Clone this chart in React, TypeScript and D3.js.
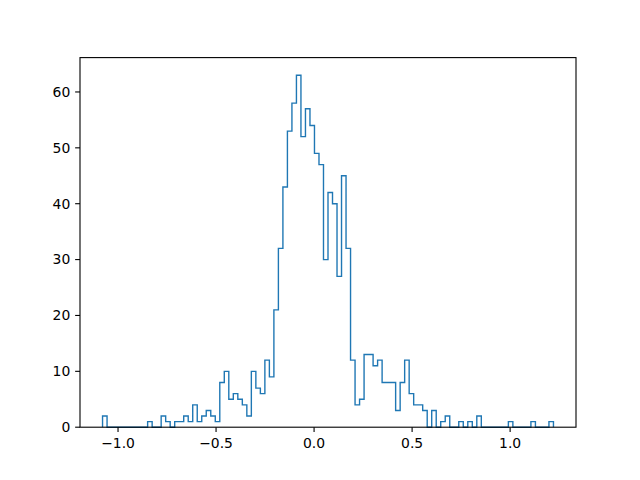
import React from "react";
import * as d3 from "d3";

const dataMin = -1.079;
const dataMax = 1.221;
const counts = [
  2, 0, 0, 0, 0, 0, 0, 0, 0, 0,
  1, 0, 0, 2, 1, 0, 1, 1, 2, 1,
  4, 1, 2, 3, 2, 1, 8, 10, 5, 6,
  5, 4, 2, 10, 7, 6, 12, 9, 21, 32,
  43, 53, 58, 63, 52, 57, 54, 49, 47, 30,
  42, 40, 27, 45, 32, 12, 4, 5, 13, 13,
  11, 12, 8, 8, 8, 3, 8, 12, 6, 4,
  4, 3, 0, 3, 0, 1, 2, 0, 0, 1,
  0, 1, 0, 2, 0, 0, 0, 0, 0, 0,
  1, 0, 0, 0, 0, 1, 0, 0, 0, 1,
];
const xTicks = [-1.0, -0.5, 0.0, 0.5, 1.0];
const yTicks = [0, 10, 20, 30, 40, 50, 60];

export default function App() {
  const W = 640, H = 480;
  const left = 80, right = 576, top = 57.6, bottom = 427.2;
  const span = dataMax - dataMin;
  const x = d3.scaleLinear().domain([dataMin - 0.05 * span, dataMax + 0.05 * span]).range([left, right]);
  const yMax = d3.max(counts)! * 1.05;
  const y = d3.scaleLinear().domain([0, yMax]).range([bottom, top]);
  const n = counts.length;
  const w = span / n;
  const pts: [number, number][] = [[dataMin, 0]];
  counts.forEach((c, i) => {
    pts.push([dataMin + i * w, c]);
    pts.push([dataMin + (i + 1) * w, c]);
  });
  pts.push([dataMax, 0]);
  const line = d3.line<[number, number]>().x(d => x(d[0])).y(d => y(d[1]));
  const fmt = (v: number) => (v < 0 ? "\u2212" : "") + Math.abs(v).toFixed(1);
  const font = "DejaVu Sans";
  return (
    <svg width={W} height={H} style={{ position: "absolute", left: 0, top: 0, background: "#fff" }}>
      <rect x={0} y={0} width={W} height={H} fill="#fff" />
      <path d={line(pts)!} fill="none" stroke="#1f77b4" strokeWidth={1.39} strokeLinejoin="miter" />
      {xTicks.map(t => (
        <g key={t}>
          <line x1={x(t)} x2={x(t)} y1={bottom} y2={bottom + 4.86} stroke="#000" strokeWidth={1.1} />
          <text x={x(t)} y={bottom + 4.86 + 4.86 + 11} textAnchor="middle" fontFamily={font} fontSize={13.9}>{fmt(t)}</text>
        </g>
      ))}
      {yTicks.map(t => (
        <g key={t}>
          <line x1={left - 4.86} x2={left} y1={y(t)} y2={y(t)} stroke="#000" strokeWidth={1.1} />
          <text x={left - 4.86 - 4.86} y={y(t)} dy="0.35em" textAnchor="end" fontFamily={font} fontSize={13.9}>{t}</text>
        </g>
      ))}
      <rect x={left} y={top} width={right - left} height={bottom - top} fill="none" stroke="#000" strokeWidth={1.1} />
    </svg>
  );
}
